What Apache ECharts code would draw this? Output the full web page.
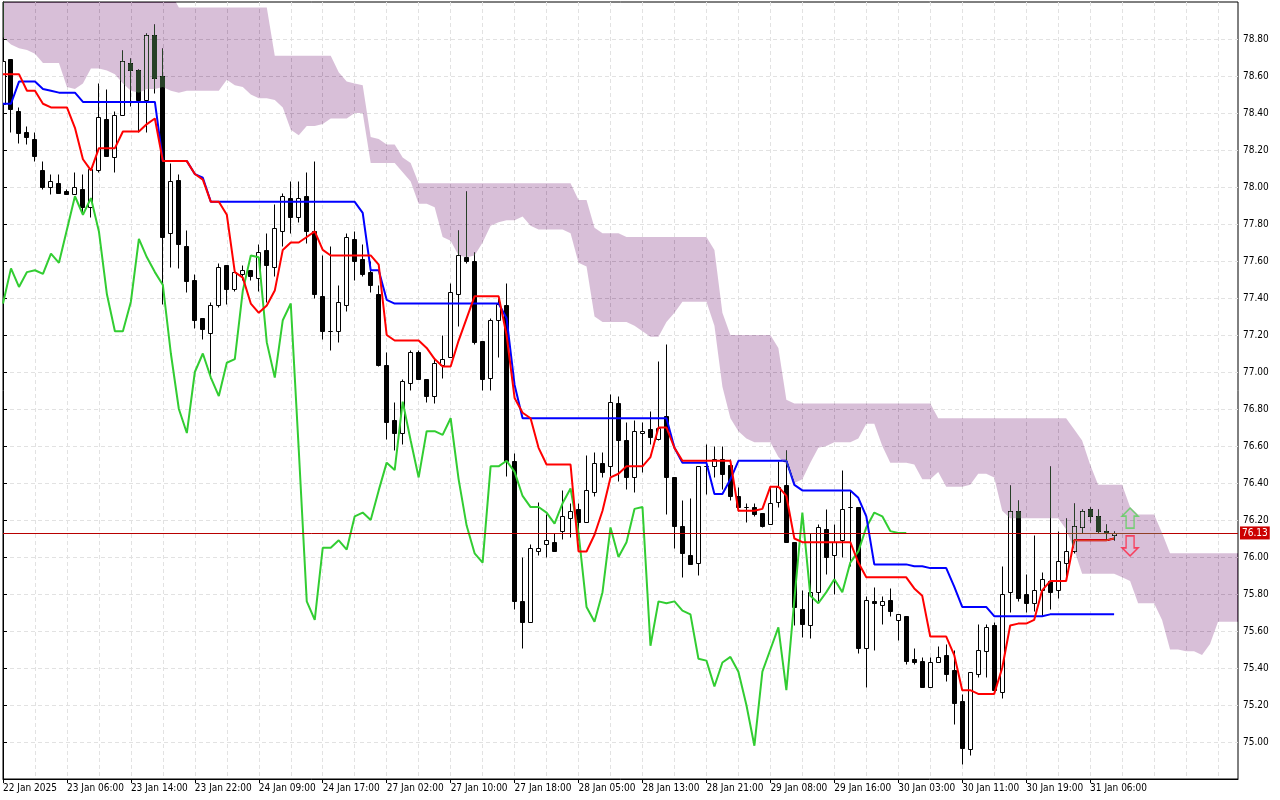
<!DOCTYPE html>
<html>
<head>
<meta charset="utf-8">
<style>html,body{margin:0;padding:0;background:#fff}#c{width:1280px;height:800px}
canvas[data-zr-dom-id="zr_1"]{mix-blend-mode:difference}</style>
<script src="https://cdn.jsdelivr.net/npm/echarts@6/dist/echarts.min.js"></script>
</head>
<body>
<div id="c"></div>
<script>
const tickLabels = ['22 Jan 2025','23 Jan 06:00','23 Jan 14:00','23 Jan 22:00','24 Jan 09:00','24 Jan 17:00','27 Jan 02:00','27 Jan 10:00','27 Jan 18:00','28 Jan 05:00','28 Jan 13:00','28 Jan 21:00','29 Jan 08:00','29 Jan 16:00','30 Jan 03:00','30 Jan 11:00','30 Jan 19:00','31 Jan 06:00'];
const lastPrice = 76.13;
const signalUp = 76.21, signalDown = 76.06, signalBar = 141;
const opens = [
78.45,78.69,78.41,78.30,78.26,78.09,78.00,78.02,77.98,77.96,
77.99,77.89,78.09,78.37,78.16,78.39,78.67,78.63,78.47,78.82,
78.60,77.75,78.04,77.68,77.50,77.29,77.21,77.36,77.58,77.45,
77.53,77.55,77.51,77.66,77.57,77.76,77.94,77.84,77.95,77.76,
77.41,77.22,77.22,77.36,77.72,77.61,77.54,77.42,77.04,76.74,
76.67,76.94,77.11,76.96,76.87,77.04,77.08,77.42,77.62,77.60,
77.17,76.97,77.28,77.36,76.52,75.76,75.65,76.03,76.07,76.08,
76.14,76.21,76.26,76.19,76.35,76.51,76.49,76.83,76.63,76.43,
76.67,76.69,76.64,76.76,76.43,76.17,76.01,75.97,76.49,76.49,
76.53,76.50,76.33,76.27,76.27,76.24,76.18,76.30,76.39,76.08,
75.72,75.63,75.81,76.15,76.01,76.09,76.27,76.27,75.51,75.76,
75.74,75.77,75.66,75.68,75.45,75.44,75.30,75.43,75.47,75.39,
75.22,74.96,75.37,75.49,75.63,75.27,75.81,76.25,75.80,75.75,
75.82,75.87,75.82,75.97,76.03,76.16,76.26,76.22,76.14,76.12];
const highs = [
78.70,78.69,78.43,78.33,78.30,78.14,78.07,78.07,77.99,78.08,
78.07,78.10,78.56,78.53,78.41,78.74,78.70,78.64,78.83,78.88,
78.75,78.13,78.07,77.77,77.53,77.29,77.38,77.59,77.58,77.54,
77.58,77.55,77.69,77.75,77.91,77.97,78.03,78.03,78.08,78.14,
77.63,77.68,77.47,77.75,77.76,77.69,77.60,77.47,77.11,76.84,
76.96,77.12,77.12,76.96,77.07,77.20,77.48,77.77,77.98,77.65,
77.17,77.29,77.40,77.48,76.56,76.00,76.07,76.30,76.23,76.13,
76.36,76.29,76.29,76.55,76.57,76.57,76.88,76.87,76.73,76.74,
76.73,76.79,77.06,77.15,76.43,76.31,76.32,76.49,76.61,76.60,
76.60,76.53,76.38,76.29,76.29,76.24,76.38,76.52,76.58,76.08,
75.82,76.13,76.18,76.26,76.18,76.47,76.36,76.27,75.79,75.84,
75.79,75.83,75.69,75.68,75.51,75.46,75.46,75.52,75.53,75.50,
75.26,75.38,75.64,75.64,75.65,75.95,76.39,76.31,75.91,76.12,
75.92,76.49,76.14,76.21,76.29,76.26,76.27,76.26,76.18,76.14];
const lows = [
78.44,78.30,78.24,78.23,78.14,77.99,77.96,77.97,77.96,77.96,
77.86,77.84,78.08,78.17,78.08,78.39,78.44,78.30,78.30,78.51,
77.37,77.57,77.56,77.43,77.24,77.18,76.97,77.35,77.37,77.44,
77.50,77.50,77.44,77.38,77.52,77.68,77.75,77.81,77.70,77.40,
77.18,77.12,77.16,77.33,77.50,77.52,77.43,77.03,76.64,76.58,
76.61,76.90,76.96,76.84,76.83,76.97,77.08,77.25,77.59,77.15,
76.90,76.90,77.08,76.44,75.72,75.51,75.65,76.01,76.00,76.03,
76.10,76.11,76.09,76.19,76.33,76.43,76.44,76.41,76.37,76.35,
76.46,76.61,76.63,76.23,76.05,75.89,75.96,75.90,76.34,76.43,
76.37,76.31,76.25,76.19,76.22,76.16,76.18,76.27,76.08,75.63,
75.57,75.56,75.76,75.91,75.80,76.00,75.95,75.48,75.30,75.50,
75.64,75.68,75.55,75.42,75.42,75.30,75.30,75.43,75.33,75.10,
74.88,74.93,75.35,75.35,75.28,75.24,75.70,75.76,75.70,75.71,
75.68,75.72,75.78,75.88,76.02,76.13,76.19,76.13,76.10,76.09];
const closes = [
78.68,78.42,78.29,78.27,78.17,78.00,78.03,77.97,77.96,78.00,
77.89,78.10,78.38,78.17,78.39,78.68,78.63,78.47,78.82,78.59,
77.73,78.03,77.69,77.49,77.28,77.23,77.36,77.57,77.45,77.54,
77.55,77.52,77.65,77.58,77.78,77.95,77.84,77.94,77.76,77.42,
77.22,77.22,77.38,77.73,77.60,77.53,77.47,77.04,76.73,76.67,
76.95,77.11,76.96,76.87,77.05,77.07,77.43,77.63,77.60,77.16,
76.96,77.28,77.37,76.52,75.76,75.65,76.05,76.05,76.09,76.03,
76.22,76.25,76.19,76.36,76.51,76.46,76.84,76.63,76.43,76.68,
76.68,76.65,76.70,76.43,76.17,76.02,75.96,76.49,76.49,76.53,
76.45,76.33,76.27,76.27,76.23,76.17,76.29,76.38,76.08,75.73,
75.64,75.81,76.16,76.00,76.08,76.26,76.27,75.51,75.77,75.75,
75.76,75.71,75.69,75.44,75.43,75.30,75.43,75.46,75.37,75.21,
74.97,75.38,75.50,75.62,75.28,75.80,76.25,75.78,75.75,75.82,
75.88,75.81,75.98,76.03,76.17,76.25,76.22,76.14,76.13,76.13];
const tenkan = [
78.61,78.61,78.61,78.52,78.52,78.45,78.43,78.43,78.43,78.32,
78.15,78.09,78.21,78.21,78.21,78.30,78.30,78.30,78.34,78.37,
78.14,78.14,78.14,78.14,78.07,78.04,77.92,77.92,77.85,77.54,
77.51,77.37,77.32,77.36,77.44,77.66,77.70,77.70,77.73,77.76,
77.66,77.63,77.63,77.63,77.63,77.63,77.63,77.58,77.20,77.17,
77.17,77.17,77.17,77.13,77.07,77.03,77.03,77.17,77.29,77.41,
77.41,77.41,77.41,77.20,76.86,76.78,76.75,76.59,76.50,76.50,
76.50,76.50,76.03,76.03,76.12,76.25,76.43,76.45,76.49,76.49,
76.49,76.54,76.70,76.70,76.59,76.52,76.52,76.52,76.52,76.52,
76.52,76.52,76.25,76.25,76.25,76.26,76.38,76.38,76.33,76.10,
76.08,76.08,76.08,76.08,76.08,76.08,76.08,75.97,75.89,75.89,
75.89,75.89,75.89,75.89,75.83,75.79,75.57,75.57,75.57,75.47,
75.28,75.28,75.26,75.26,75.26,75.40,75.63,75.64,75.64,75.66,
75.82,75.87,75.87,75.87,76.09,76.09,76.09,76.09,76.09,76.10];
const kijun = [
78.45,78.45,78.57,78.57,78.57,78.53,78.52,78.51,78.51,78.51,
78.46,78.46,78.46,78.46,78.46,78.46,78.46,78.46,78.46,78.46,
78.14,78.14,78.14,78.14,78.07,78.05,77.92,77.92,77.92,77.92,
77.92,77.92,77.92,77.92,77.92,77.92,77.92,77.92,77.92,77.92,
77.92,77.92,77.92,77.92,77.92,77.86,77.55,77.55,77.39,77.37,
77.37,77.37,77.37,77.37,77.37,77.37,77.37,77.37,77.37,77.37,
77.37,77.37,77.37,77.29,76.93,76.75,76.75,76.75,76.75,76.75,
76.75,76.75,76.75,76.75,76.75,76.75,76.75,76.75,76.75,76.75,
76.75,76.75,76.75,76.75,76.59,76.51,76.51,76.51,76.51,76.34,
76.34,76.42,76.52,76.52,76.52,76.52,76.52,76.52,76.52,76.39,
76.36,76.36,76.36,76.36,76.36,76.36,76.36,76.32,76.22,75.96,
75.96,75.96,75.96,75.96,75.95,75.95,75.94,75.94,75.94,75.84,
75.73,75.73,75.73,75.73,75.68,75.68,75.68,75.68,75.68,75.68,
75.68,75.69,75.69,75.69,75.69,75.69,75.69,75.69,75.69,75.69];
const chikou = [
77.37,77.56,77.46,77.54,77.55,77.53,77.64,77.59,77.77,77.95,
77.85,77.94,77.76,77.42,77.22,77.22,77.38,77.72,77.62,77.54,
77.47,77.10,76.80,76.67,77.00,77.10,76.97,76.87,77.05,77.07,
77.44,77.63,77.62,77.16,76.97,77.28,77.37,76.58,75.76,75.66,
76.05,76.05,76.09,76.04,76.22,76.24,76.20,76.36,76.51,76.47,
76.84,76.63,76.43,76.68,76.68,76.66,76.75,76.42,76.17,76.02,
75.97,76.49,76.49,76.52,76.46,76.33,76.27,76.27,76.24,76.18,
76.29,76.37,76.13,75.73,75.65,75.81,76.16,76.00,76.08,76.26,
76.27,75.52,75.76,75.75,75.76,75.71,75.69,75.45,75.44,75.30,
75.43,75.46,75.38,75.20,74.98,75.38,75.50,75.62,75.28,75.77,
76.24,75.79,75.75,75.81,75.88,75.81,75.97,76.03,76.16,76.24,
76.22,76.14,76.13,76.13];
const cloudUpper = [
79.05,79.05,79.05,79.05,79.05,79.05,79.05,79.05,79.05,79.05,
79.05,79.05,79.05,79.05,79.05,79.05,79.05,79.05,79.05,79.05,
79.05,79.05,78.97,78.97,78.97,78.97,78.97,78.97,78.97,78.97,
78.97,78.97,78.97,78.97,78.71,78.71,78.71,78.71,78.71,78.71,
78.71,78.71,78.62,78.57,78.56,78.55,78.27,78.26,78.23,78.23,
78.16,78.13,78.02,78.02,78.02,78.02,78.02,78.02,78.02,78.02,
78.02,78.02,78.02,78.02,78.02,78.02,78.02,78.02,78.02,78.02,
78.02,78.02,77.93,77.93,77.78,77.75,77.75,77.75,77.73,77.73,
77.73,77.73,77.73,77.73,77.73,77.73,77.73,77.73,77.73,77.66,
77.32,77.20,77.20,77.20,77.20,77.20,77.20,77.13,76.85,76.83,
76.83,76.83,76.83,76.83,76.83,76.83,76.83,76.83,76.83,76.83,
76.83,76.83,76.83,76.83,76.83,76.83,76.83,76.75,76.75,76.75,
76.75,76.75,76.75,76.75,76.75,76.75,76.75,76.75,76.75,76.75,
76.75,76.75,76.75,76.75,76.69,76.63,76.50,76.39,76.39,76.39,
76.39,76.27,76.23,76.23,76.23,76.13,76.02,76.02,76.02,76.02,
76.02,76.02,76.02,76.02,76.02,76.02];
const cloudLower = [
78.81,78.77,78.75,78.74,78.72,78.67,78.67,78.67,78.54,78.53,
78.56,78.64,78.64,78.63,78.61,78.56,78.52,78.51,78.53,78.53,
78.54,78.52,78.51,78.52,78.52,78.52,78.52,78.52,78.58,78.55,
78.54,78.50,78.48,78.48,78.47,78.43,78.31,78.28,78.33,78.33,
78.34,78.37,78.37,78.37,78.40,78.40,78.13,78.13,78.13,78.13,
78.08,78.03,77.91,77.91,77.89,77.73,77.71,77.63,77.62,77.63,
77.70,77.79,77.81,77.82,77.82,77.84,77.79,77.77,77.77,77.77,
77.77,77.75,77.59,77.57,77.30,77.27,77.27,77.27,77.27,77.25,
77.22,77.19,77.19,77.27,77.32,77.38,77.38,77.38,77.38,77.25,
76.92,76.75,76.68,76.64,76.62,76.62,76.62,76.54,76.50,76.40,
76.42,76.51,76.59,76.60,76.62,76.62,76.62,76.64,76.72,76.72,
76.60,76.51,76.51,76.51,76.50,76.42,76.42,76.46,76.38,76.38,
76.38,76.39,76.45,76.45,76.43,76.25,76.21,76.21,76.21,76.21,
76.21,76.21,76.21,76.15,76.04,75.91,75.91,75.91,75.91,75.91,
75.89,75.87,75.75,75.75,75.75,75.66,75.50,75.50,75.49,75.49,
75.47,75.53,75.65,75.65,75.65,75.65];

const FONT = '"DejaVu Sans Condensed","Liberation Sans",sans-serif';
const FS = 10;
const pts = a => a.map((v, i) => [i, v]);
const chart = echarts.init(document.getElementById('c'));
const gridDash = {color: '#e2e2e2', width: 1, type: [4, 3]};
const labelTicks = tickLabels.map((_, k) => k * 8);

function renderCandle(params, api) {
  const i = api.value(0), o = api.value(1), h = api.value(2), l = api.value(3), c = api.value(4);
  const x = Math.floor(api.coord([i, o])[0]) + 0.5;
  const yo = api.coord([i, o])[1], yc = api.coord([i, c])[1];
  const yh = Math.round(api.coord([i, h])[1]) + 0.5, yl = Math.round(api.coord([i, l])[1]) + 0.5;
  const top = Math.round(Math.min(yo, yc)) + 0.5, bot = Math.round(Math.max(yo, yc)) + 0.5;
  const up = c > o;
  return {type: 'group', children: [
    {type: 'line', shape: {x1: x, y1: yh, x2: x, y2: yl}, style: {stroke: '#000', lineWidth: 1}},
    {type: 'rect', shape: {x: x - 2, y: top, width: 4, height: Math.max(bot - top, 0.01)},
     style: {fill: up ? '#fff' : '#000', stroke: '#000', lineWidth: 1}}
  ]};
}
function renderCloud(params, api) {
  const up = cloudUpper.map((v, i) => api.coord([i, v]));
  const lo = cloudLower.map((v, i) => api.coord([i, v])).reverse();
  return {type: 'polygon', shape: {points: up.concat(lo)}, style: {fill: 'rgb(39,64,39)'}};
}
const arrowUp = 'path://M8 0L16 8L12 8L12 20L4 20L4 8L0 8Z';
const arrowDown = 'path://M4 0L12 0L12 12L16 12L8 20L0 12L4 12Z';

chart.setOption({
  animation: false,
  backgroundColor: '#ffffff',
  textStyle: {fontFamily: FONT},
  grid: {left: 2, top: 2, right: 42, bottom: 21, show: true, borderColor: '#000', borderWidth: 1, backgroundColor: 'transparent', containLabel: false},
  xAxis: [
    {type: 'value', min: 0, max: 154.5, interval: 4, position: 'bottom',
     axisLine: {show: false}, axisTick: {show: false}, axisLabel: {show: false},
     splitLine: {show: true, showMinLine: false, showMaxLine: false, lineStyle: gridDash}},
    {type: 'value', min: 0, max: 154.5, interval: 8, position: 'bottom',
     axisLine: {show: true, lineStyle: {color: '#000'}}, splitLine: {show: false},
     axisTick: {show: true, length: 4, customValues: labelTicks, lineStyle: {color: '#000'}},
     axisLabel: {show: true, align: 'left', margin: 4, color: '#000', fontFamily: FONT, fontSize: FS, customValues: labelTicks,
       formatter: v => tickLabels[v / 8] || ''}}
  ],
  yAxis: {type: 'value', min: 74.8, max: 79.0, interval: 0.2, position: 'right',
    axisLine: {show: true, lineStyle: {color: '#000'}},
    axisTick: {show: true, length: 4, lineStyle: {color: '#000'}},
    axisLabel: {show: true, margin: 5, color: '#000', fontFamily: FONT, fontSize: FS, showMinLabel: false, showMaxLabel: false,
      formatter: v => v.toFixed(2)},
    splitLine: {show: true, showMinLine: false, showMaxLine: false, lineStyle: gridDash}},
  series: [
    {type: 'custom', name: 'Candles', z: 2, clip: true, renderItem: renderCandle,
     data: opens.map((o, i) => [i, o, highs[i], lows[i], closes[i]]),
     encode: {x: 0, y: [1, 2, 3, 4]}},
    {type: 'line', name: 'Chikou', z: 3, data: pts(chikou), showSymbol: false, symbol: 'none', lineStyle: {color: '#32cd32', width: 2}},
    {type: 'line', name: 'Kijun', z: 3, data: pts(kijun), showSymbol: false, symbol: 'none', lineStyle: {color: '#0000ff', width: 2}},
    {type: 'line', name: 'Tenkan', z: 3, data: pts(tenkan), showSymbol: false, symbol: 'none', lineStyle: {color: '#ff0000', width: 2}},
    {type: 'custom', name: 'Cloud', zlevel: 1, clip: true, renderItem: renderCloud, data: [[0, cloudLower[0]]], encode: {x: 0, y: 1}},
    {type: 'line', name: 'Last', zlevel: 2, data: [[139, lastPrice]], showSymbol: false, symbol: 'none', lineStyle: {opacity: 0},
     markLine: {silent: true, symbol: 'none', animation: false, precision: 2,
       lineStyle: {color: '#b80000', type: 'solid', width: 1},
       label: {show: true, position: 'end', distance: 2, color: '#fff', backgroundColor: '#cc0000', fontFamily: FONT, fontSize: FS, padding: [2, 2, 1, 2],
         formatter: () => lastPrice.toFixed(2)},
       data: [{yAxis: lastPrice}]}},
    {type: 'scatter', name: 'BuySignal', zlevel: 2, data: [[signalBar, signalUp]], symbol: arrowUp, symbolSize: [16, 20],
     itemStyle: {color: 'transparent', borderColor: '#5bd25b', borderWidth: 1.5}},
    {type: 'scatter', name: 'SellSignal', zlevel: 2, data: [[signalBar, signalDown]], symbol: arrowDown, symbolSize: [16, 20],
     itemStyle: {color: 'transparent', borderColor: '#ff2040', borderWidth: 1.5}}
  ]
});
</script>
</body>
</html>
